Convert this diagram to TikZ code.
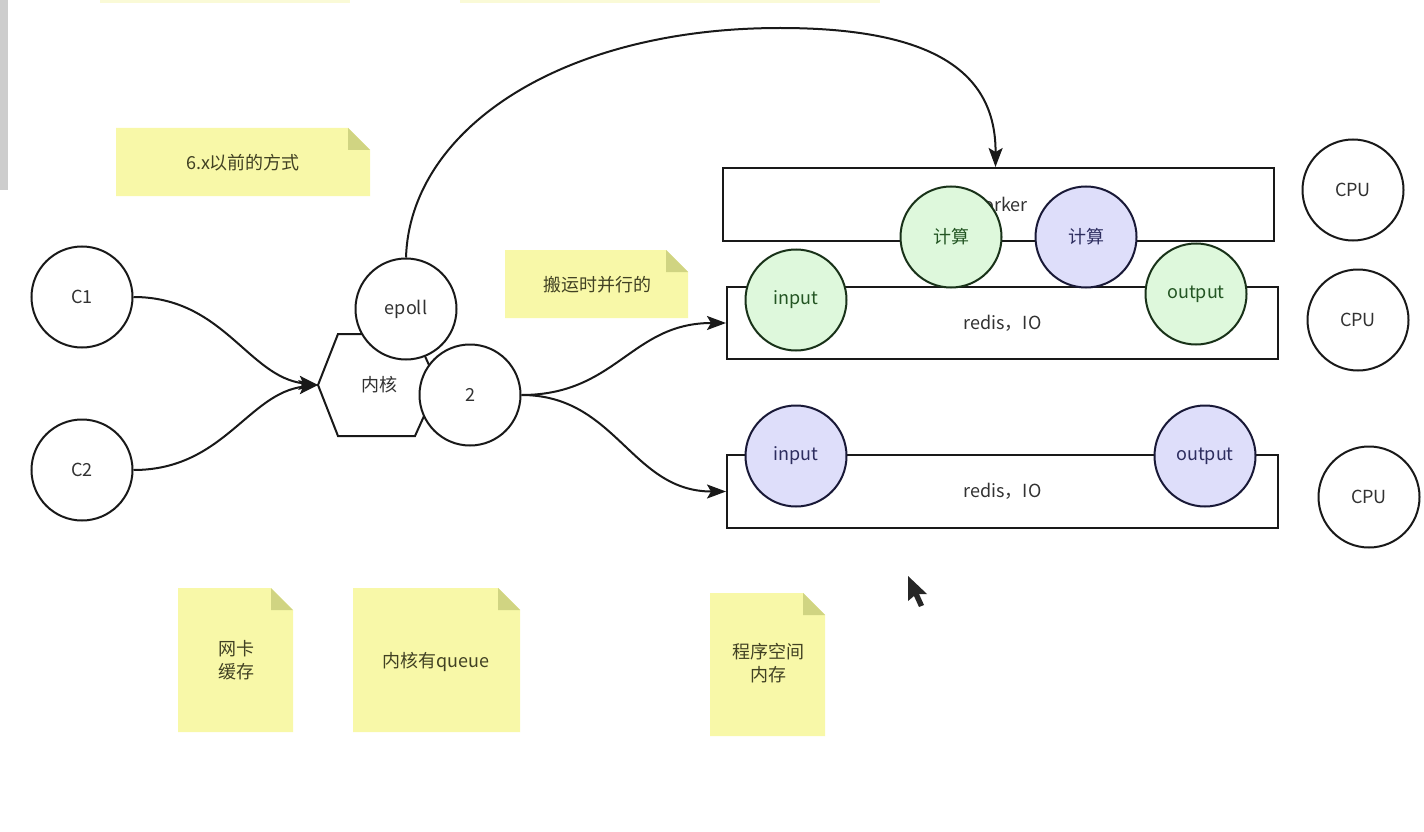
\documentclass[tikz,border=0pt]{standalone}
\usepackage{fontspec}
\newfontfamily\cjk{Noto Sans CJK SC}
\usetikzlibrary{arrows.meta,calc}
\definecolor{ink}{RGB}{25,25,25}
\definecolor{txt}{RGB}{50,50,50}
\definecolor{notefill}{RGB}{248,248,168}
\definecolor{foldfill}{RGB}{208,212,130}
\definecolor{notetxt}{RGB}{65,65,35}
\definecolor{gfill}{RGB}{222,248,220}
\definecolor{gline}{RGB}{25,50,25}
\definecolor{gtext}{RGB}{35,85,35}
\definecolor{pfill}{RGB}{222,222,250}
\definecolor{pline}{RGB}{25,25,55}
\definecolor{ptext}{RGB}{45,45,95}
\definecolor{scroll}{RGB}{205,205,205}
\definecolor{strip}{RGB}{250,250,215}
\newcommand\stickynote[4]{%
  \fill[notefill] (#1,#2) -- (#3-22,#2) -- (#3,#2+22) -- (#3,#4) -- (#1,#4) -- cycle;
  \fill[foldfill] (#3-22,#2) -- (#3,#2+22) -- (#3-22,#2+22) -- cycle;
}
\begin{document}
\begin{tikzpicture}[x=1pt,y=-1pt,
  every node/.style={font=\cjk\fontsize{18}{23}\selectfont, text=txt},
  circ/.style={circle, draw=ink, fill=white, line width=2pt, minimum size=101, inner sep=0pt},
  gcirc/.style={circ, draw=gline, fill=gfill, text=gtext},
  pcirc/.style={circ, draw=pline, fill=pfill, text=ptext},
  box/.style={rectangle, draw=ink, fill=white, line width=2pt, inner sep=0pt, minimum width=551, minimum height=72},
  notetext/.style={text=notetxt, align=center},
  arr/.style={draw=ink, line width=2pt, -{Stealth[length=19pt,width=14pt,inset=4pt]}}
]
\useasboundingbox (0,0) rectangle (1424,832);
\fill[white] (0,0) rectangle (1424,832);
% screen edges
\fill[scroll] (0,0) rectangle (8,190);
\fill[strip] (100,0) rectangle (350,3);
\fill[strip] (460,0) rectangle (880,3);

% sticky notes
\stickynote{116}{128}{370}{196}
\node[notetext] (n1) at (243,163) {6.x以前的方式};
\stickynote{505}{250}{688}{318}
\node[notetext] (n2) at (597,285) {搬运时并行的};
\stickynote{178}{588}{293}{732}
\node[notetext] (n3) at (236,660) {网卡\\缓存};
\stickynote{353}{588}{520}{732}
\node[notetext] (n4) at (436,662) {内核有queue};
\stickynote{710}{593}{825}{736}
\node[notetext] (n5) at (768,663) {程序空间\\内存};

% clients
\node[circ] (c1) at (82,297) {C1};
\node[circ] (c2) at (82,470) {C2};

% kernel hexagon
\filldraw[fill=white, draw=ink, line width=2pt] (318,385) -- (338,334) -- (415,334) -- (438,385) -- (415,436) -- (338,436) -- cycle;
\coordinate (hexw) at (318,385);
\node (kernel) at (379,385) {内核};
\node[circ] (epoll) at (406,309) {epoll};
\node[circ] (two) at (470,395) {2};

% boxes
\node[box, minimum height=73] (worker) at (998.5,204.5) {worker};
\node[box] (io1) at (1002.5,323) {redis，IO};
\node[box, minimum height=73] (io2) at (1002.5,491.5) {redis，IO};

% coloured circles
\node[gcirc] (calc1) at (951,237) {计算};
\node[pcirc] (calc2) at (1086,237) {计算};
\node[gcirc] (in1) at (796,300) {input};
\node[gcirc] (out1) at (1196,294) {output};
\node[pcirc] (in2) at (796,456) {input};
\node[pcirc] (out2) at (1205,456) {output};

% CPUs
\node[circ] (cpu1) at (1353,190) {CPU};
\node[circ] (cpu2) at (1358,320) {CPU};
\node[circ] (cpu3) at (1369,497) {CPU};

% connectors
\draw[arr] (c1.east) .. controls +(90,0) and +(-70,-8) .. (hexw);
\draw[arr] (c2.east) .. controls +(90,0) and +(-70,8) .. (hexw);
\draw[arr] (two.east) .. controls +(95,0) and +(-95,0) .. (io1.west);
\draw[arr] (two.east) .. controls +(95,0) and +(-95,0) .. (io2.west);
\coordinate (arctop) at (780,28);
\coordinate (wtop) at ($(worker.north)+(-3,0)$);
\draw[arr] (epoll.north) .. controls (410,130) and (560,28) .. (arctop) .. controls (930,28) and (996,70) .. (wtop);

% mouse cursor
\fill[black!85] (908,576) -- (908,601) -- (914,596) -- (919,607) -- (924,605) -- (919,594) -- (927,594) -- cycle;
\end{tikzpicture}
\end{document}
